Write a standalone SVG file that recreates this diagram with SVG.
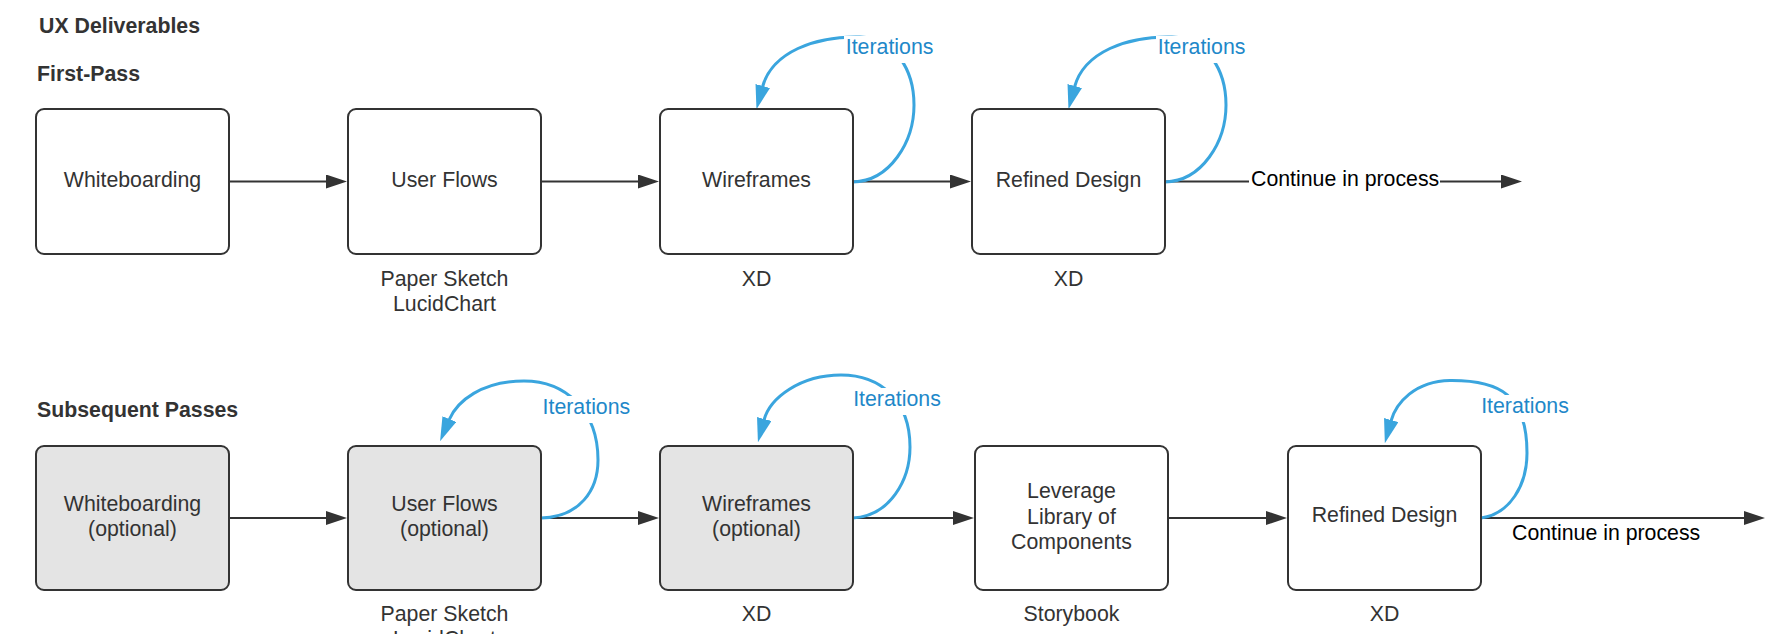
<svg xmlns="http://www.w3.org/2000/svg" width="1767" height="634" viewBox="0 0 1767 634">
  <style>
    .box { fill: #ffffff; stroke: #333333; stroke-width: 2; }
    .box.muted { fill: #e4e4e4; }
    .label { font-family: "Liberation Sans", Arial, sans-serif; font-size: 21.3px; fill: #333333; text-anchor: middle; }
    .heading { font-family: "Liberation Sans", Arial, sans-serif; font-size: 21.3px; font-weight: bold; fill: #333333; }
    .flow { fill: none; stroke: #333333; stroke-width: 2; marker-end: url(#arrow-dark); }
    .loop { fill: none; stroke: #3aa5de; stroke-width: 3; marker-end: url(#arrow-blue); }
    .loop-text { font-family: "Liberation Sans", Arial, sans-serif; font-size: 21.3px; fill: #1e88c9; text-anchor: middle; }
    .edge-text { font-family: "Liberation Sans", Arial, sans-serif; font-size: 21.3px; fill: #000000; }
    .label-bg { fill: #ffffff; }
  </style>
  <defs>
    <marker id="arrow-dark" markerUnits="userSpaceOnUse" viewBox="0 0 22 14" markerWidth="22" markerHeight="14" refX="1" refY="7" orient="auto">
      <path d="M0,0 L21,7 L0,14 Z" fill="#333333"/>
    </marker>
    <marker id="arrow-blue" markerUnits="userSpaceOnUse" viewBox="0 0 24 15" markerWidth="24" markerHeight="15" refX="1" refY="7.5" orient="auto">
      <path d="M0,0 L24,7.5 L0,15 Z" fill="#3aa5de"/>
    </marker>
  </defs>

  <rect width="1767" height="634" fill="#ffffff"/>

  <!-- section headings -->
  <g id="headings">
    <text class="heading" x="39" y="32.7">UX Deliverables</text>
    <text class="heading" x="37" y="80.7">First-Pass</text>
    <text class="heading" x="37" y="416.7">Subsequent Passes</text>
  </g>

  <!-- connectors -->
  <g id="connectors">
    <!-- first pass -->
    <path class="flow" d="M229 181.5 H327"/>
    <path class="flow" d="M541 181.5 H639"/>
    <path class="flow" d="M853 181.5 H951"/>
    <path class="flow" d="M1165 181.5 H1502"/>
    <path class="loop" d="M853 182 C890 181 914 142 914 105 C914 70 895 38 860 37 C815 36 772 52 762.5 87"/>
    <path class="loop" d="M1165 182 C1202 181 1226 142 1226 105 C1226 70 1207 38 1172 37 C1127 36 1084 52 1074.5 87"/>

    <!-- subsequent passes -->
    <path class="flow" d="M229 518 H327"/>
    <path class="flow" d="M541 518 H639"/>
    <path class="flow" d="M853 518 H954"/>
    <path class="flow" d="M1167 518 H1267"/>
    <path class="flow" d="M1481 518 H1745"/>
    <path class="loop" d="M541 518 C580 517 598 490 598 460 C598 410 565 381 524 381 C482 381 457 401 449 420"/>
    <path class="loop" d="M853 518 C890 516 910 480 910 447 C910 400 880 375 841 375 C800 375 770 398 764 420"/>
    <path class="loop" d="M1481 518 C1510 514 1527 485 1527 453 C1527 395 1500 380 1450 380.5 C1415 381 1396 403 1391 421"/>

    <!-- connector labels -->
    <rect class="label-bg" x="844" y="36" width="92" height="27"/>
    <text class="loop-text" x="889.6" y="54">Iterations</text>
    <rect class="label-bg" x="1156" y="36" width="92" height="27"/>
    <text class="loop-text" x="1201.6" y="54">Iterations</text>
    <rect class="label-bg" x="1249" y="167" width="191" height="26"/>
    <text class="edge-text" x="1251" y="185.7">Continue in process</text>

    <rect class="label-bg" x="540.5" y="396" width="92" height="27"/>
    <text class="loop-text" x="586.4" y="414">Iterations</text>
    <rect class="label-bg" x="851" y="388" width="92" height="27"/>
    <text class="loop-text" x="897" y="406">Iterations</text>
    <rect class="label-bg" x="1479" y="395" width="92" height="27"/>
    <text class="loop-text" x="1525" y="412.7">Iterations</text>
    <text class="edge-text" x="1512" y="539.5">Continue in process</text>
  </g>

  <!-- first pass nodes -->
  <g id="fp-whiteboarding">
    <rect class="box" x="36" y="109" width="193" height="145" rx="8"/>
    <text class="label" x="132.5" y="187">Whiteboarding</text>
  </g>
  <g id="fp-user-flows">
    <rect class="box" x="348" y="109" width="193" height="145" rx="8"/>
    <text class="label" x="444.5" y="187">User Flows</text>
    <text class="label" x="444.5" y="285.7">Paper Sketch</text>
    <text class="label" x="444.5" y="310.7">LucidChart</text>
  </g>
  <g id="fp-wireframes">
    <rect class="box" x="660" y="109" width="193" height="145" rx="8"/>
    <text class="label" x="756.5" y="187">Wireframes</text>
    <text class="label" x="756.5" y="285.7">XD</text>
  </g>
  <g id="fp-refined-design">
    <rect class="box" x="972" y="109" width="193" height="145" rx="8"/>
    <text class="label" x="1068.5" y="187">Refined Design</text>
    <text class="label" x="1068.5" y="285.7">XD</text>
  </g>

  <!-- subsequent pass nodes -->
  <g id="sp-whiteboarding">
    <rect class="box muted" x="36" y="446" width="193" height="144" rx="8"/>
    <text class="label" x="132.5" y="510.7">Whiteboarding</text>
    <text class="label" x="132.5" y="536">(optional)</text>
  </g>
  <g id="sp-user-flows">
    <rect class="box muted" x="348" y="446" width="193" height="144" rx="8"/>
    <text class="label" x="444.5" y="510.7">User Flows</text>
    <text class="label" x="444.5" y="536">(optional)</text>
    <text class="label" x="444.5" y="621">Paper Sketch</text>
    <text class="label" x="444.5" y="646">LucidChart</text>
  </g>
  <g id="sp-wireframes">
    <rect class="box muted" x="660" y="446" width="193" height="144" rx="8"/>
    <text class="label" x="756.5" y="510.7">Wireframes</text>
    <text class="label" x="756.5" y="536">(optional)</text>
    <text class="label" x="756.5" y="621">XD</text>
  </g>
  <g id="sp-component-library">
    <rect class="box" x="975" y="446" width="193" height="144" rx="8"/>
    <text class="label" x="1071.5" y="498">Leverage</text>
    <text class="label" x="1071.5" y="523.5">Library of</text>
    <text class="label" x="1071.5" y="549">Components</text>
    <text class="label" x="1071.5" y="621">Storybook</text>
  </g>
  <g id="sp-refined-design">
    <rect class="box" x="1288" y="446" width="193" height="144" rx="8"/>
    <text class="label" x="1384.5" y="522.3">Refined Design</text>
    <text class="label" x="1384.5" y="621">XD</text>
  </g>
</svg>
